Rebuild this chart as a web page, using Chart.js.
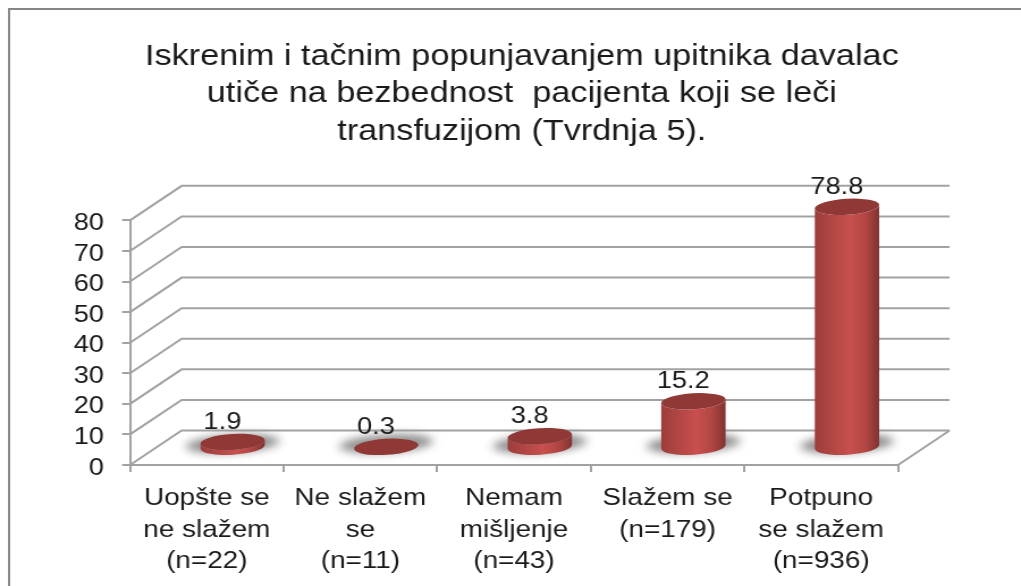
<!DOCTYPE html>
<html>
<head>
<meta charset="utf-8">
<style>
  html, body { margin: 0; padding: 0; background: #fff; overflow: hidden; }
  #box { width: 1021px; height: 586px; overflow: hidden; }
  /* the original picture is stretched sideways, text included */
  #chart { transform: scaleX(1.1344); transform-origin: 0 0; }
</style>
</head>
<body>
<div id="box"><canvas id="chart" width="900" height="586"></canvas></div>
<script src="https://cdn.jsdelivr.net/npm/chart.js@4"></script>
<script>
const titleLines = [
  "Iskrenim i tačnim popunjavanjem upitnika davalac",
  "utiče na bezbednost  pacijenta koji se leči",
  "transfuzijom (Tvrdnja 5).",
];
const categories = [
  ["Uopšte se", "ne slažem", "(n=22)"],
  ["Ne slažem", "se", "(n=11)"],
  ["Nemam", "mišljenje", "(n=43)"],
  ["Slažem se", "(n=179)"],
  ["Potpuno", "se slažem", "(n=936)"],
];
const percentValues = [1.9, 0.3, 3.8, 15.2, 78.8];

const FONT = "'Liberation Sans', Arial, sans-serif";
const GRID = "#a2a2a2";
const TEXT = "#1a1a1a";
const depthX = 45.5, depthY = -34.5; // floor depth of the 3D box

// back wall, side wall and floor
const box3d = {
  id: "box3d",
  beforeDatasetsDraw(chart) {
    const { ctx, chartArea: a, scales: { y } } = chart;
    ctx.save();
    ctx.strokeStyle = GRID;
    ctx.lineWidth = 2;
    y.ticks.forEach((t) => {
      const py = y.getPixelForValue(t.value);
      ctx.beginPath();
      ctx.moveTo(a.left, py);
      ctx.lineTo(a.left + depthX, py + depthY);
      ctx.lineTo(a.right + depthX, py + depthY);
      ctx.stroke();
    });
    // right edge of the floor
    ctx.beginPath();
    ctx.moveTo(a.right, a.bottom);
    ctx.lineTo(a.right + depthX, a.bottom + depthY);
    ctx.stroke();
    ctx.restore();
  },
};

// cylinders sit in the middle of the floor depth
const cylinders = {
  id: "cylinders",
  afterDatasetsDraw(chart) {
    const { ctx } = chart;
    const bars = chart.getDatasetMeta(0).data;
    bars.forEach((bar, i) => {
      const { x, y, base, width } = bar.getProps(["x", "y", "base", "width"], true);
      const cx = x + depthX / 2;
      const rx = width / 2;
      const ry = 8;
      const tilt = -0.07;
      const top = y + depthY / 2;
      const bottom = base + depthY / 2;

      // soft shadow on the floor
      ctx.save();
      ctx.filter = "blur(4px)";
      ctx.fillStyle = "#8e8e8e";
      ctx.beginPath();
      ctx.ellipse(cx, bottom - 3, rx + 13, ry + 1, tilt, 0, Math.PI * 2);
      ctx.fill();
      ctx.restore();

      // body
      const grad = ctx.createLinearGradient(cx - rx, 0, cx + rx, 0);
      grad.addColorStop(0, "#9c3d3b");
      grad.addColorStop(0.55, "#c9504e");
      grad.addColorStop(0.8, "#b04543");
      grad.addColorStop(1, "#7f3331");
      ctx.save();
      ctx.fillStyle = grad;
      ctx.beginPath();
      ctx.ellipse(cx, bottom, rx, ry, tilt, 0, Math.PI);
      ctx.ellipse(cx, top, rx, ry, tilt, Math.PI, 0, true);
      ctx.closePath();
      ctx.fill();

      // top cap
      ctx.fillStyle = "#8f3836";
      ctx.beginPath();
      ctx.ellipse(cx, top, rx, ry, tilt, 0, Math.PI * 2);
      ctx.fill();

      // value above the bar, a bit to the left like in the original
      ctx.fillStyle = TEXT;
      ctx.font = "24px " + FONT;
      ctx.textAlign = "center";
      ctx.textBaseline = "middle";
      ctx.fillText(percentValues[i].toFixed(1), cx - 9, top - 19.5);
      ctx.restore();
    });
  },
};

// frame around the picture, open on the right
const frame = {
  id: "frame",
  beforeDraw(chart) {
    const { ctx, width, height } = chart;
    ctx.save();
    ctx.strokeStyle = "#868686";
    ctx.lineWidth = 2;
    ctx.beginPath();
    ctx.moveTo(8, height);
    ctx.lineTo(8, 9);
    ctx.lineTo(width, 9);
    ctx.stroke();
    ctx.restore();
  },
};

Chart.defaults.font.family = FONT;
Chart.defaults.color = TEXT;

new Chart(document.getElementById("chart").getContext("2d"), {
  type: "bar",
  data: {
    labels: categories,
    datasets: [{
      data: percentValues,
      backgroundColor: "rgba(0,0,0,0)", // the cylinder plugin paints the bars
      barPercentage: 1,
      categoryPercentage: 0.42,
      yAxisID: "y",
    }],
  },
  options: {
    responsive: false,
    animation: false,
    layout: { padding: { left: 20, right: 0, top: 0, bottom: 0 } },
    plugins: {
      legend: { display: false },
      tooltip: { enabled: false },
      title: {
        display: true,
        text: titleLines,
        color: TEXT,
        font: { size: 30.2, weight: "normal", lineHeight: 1.24 },
        padding: { top: 38, bottom: 70 },
      },
    },
    scales: {
      x: {
        afterFit: (s) => { s.height = 586 - 465; },
        grid: { drawOnChartArea: false, tickLength: 7, color: GRID, lineWidth: 2 },
        border: { display: true, color: GRID, width: 2 },
        ticks: { font: { size: 24.6, lineHeight: 1.27 }, color: TEXT, maxRotation: 0, autoSkip: false, padding: 11 },
      },
      y: {
        min: 0,
        max: 80,
        afterFit: (s) => { s.width = 94.6; },
        grid: { drawOnChartArea: false, tickLength: 7, color: GRID, lineWidth: 2 },
        border: { display: true, color: GRID, width: 2 },
        ticks: { stepSize: 10, autoSkip: false, font: { size: 24 }, color: TEXT, padding: 16, labelOffset: 3 },
      },
      // empty axis: holds the room right of the floor so the title stays centred on the page
      spacer: {
        type: "linear",
        position: "right",
        afterFit: (s) => { s.width = 108.4; },
        grid: { display: false },
        border: { display: false },
        ticks: { display: false },
      },
    },
  },
  plugins: [frame, box3d, cylinders],
});
</script>
</body>
</html>
